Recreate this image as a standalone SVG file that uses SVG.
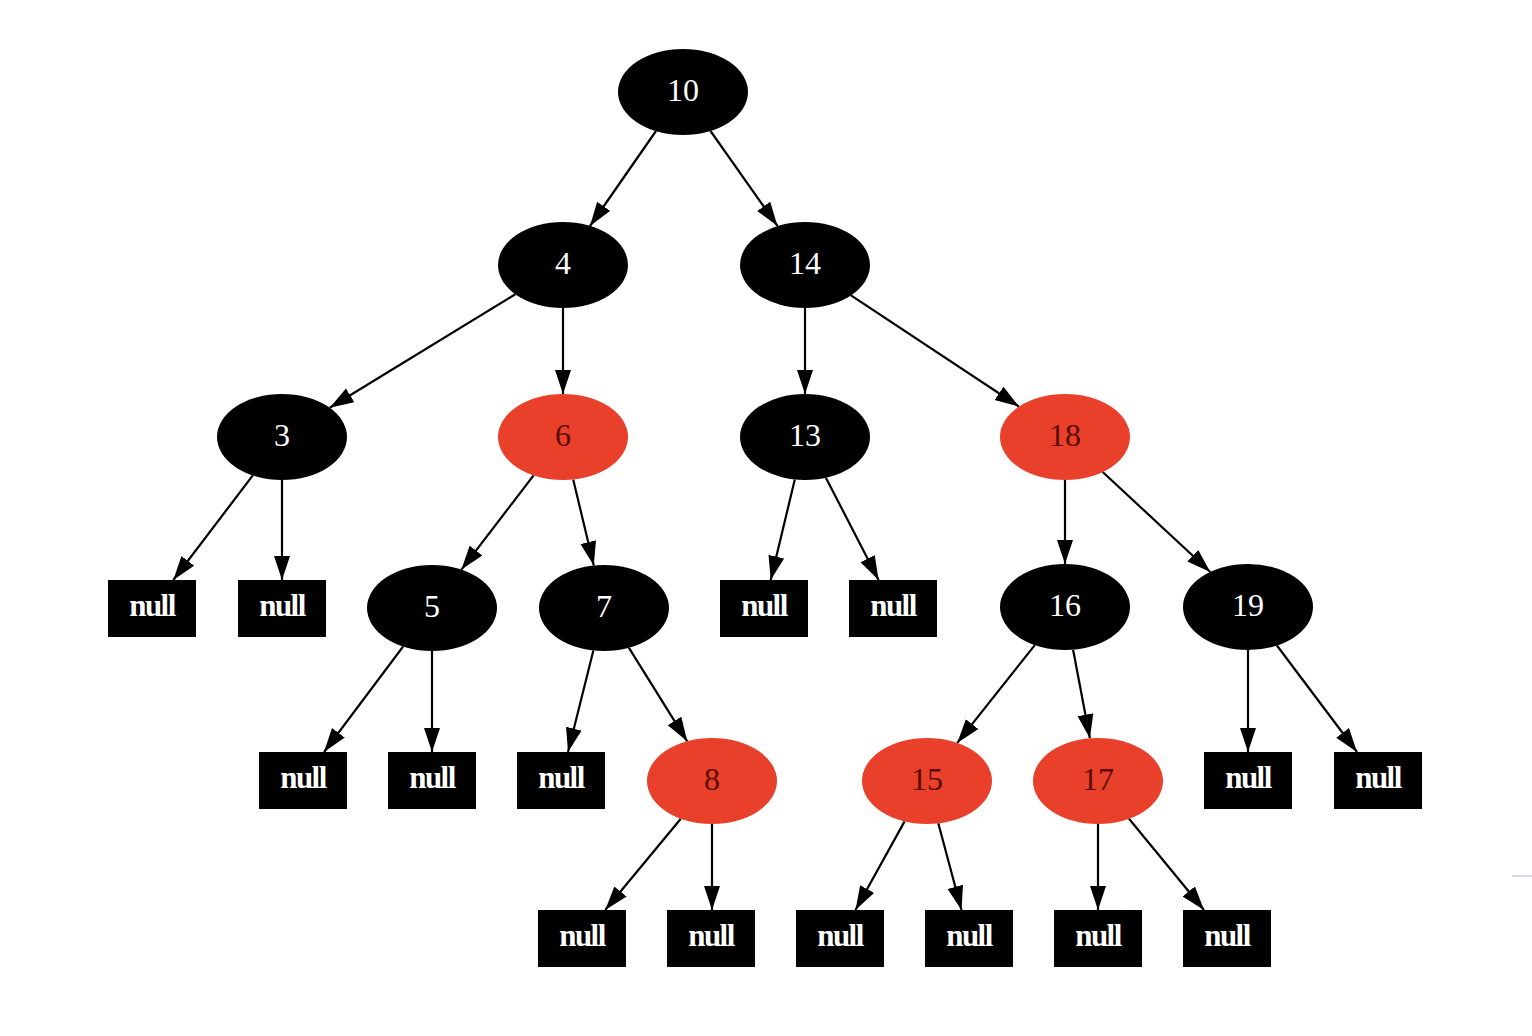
<svg xmlns="http://www.w3.org/2000/svg" width="1532" height="1036" viewBox="0 0 1532 1036">
<defs>
<marker id="arr" markerUnits="userSpaceOnUse" markerWidth="26" markerHeight="18" refX="24" refY="8" orient="auto">
<path d="M0,0 L24,8 L0,16 z" fill="#000"/>
</marker>
</defs>
<style>
.e{stroke:#000;stroke-width:2.2;fill:none;marker-end:url(#arr)}
.b{fill:#000}
.r{fill:#e8402a}
.nb{fill:#000}
.t{font-family:"Liberation Serif","Times New Roman",serif;font-size:32px;text-anchor:middle;fill:#fff}
.tr{font-family:"Liberation Serif","Times New Roman",serif;font-size:32px;text-anchor:middle;fill:#5c0a00}
.tn{font-family:"Liberation Serif","Times New Roman",serif;font-size:31px;font-weight:bold;letter-spacing:-1.5px;text-anchor:middle;fill:#fff}
</style>
<rect width="1532" height="1036" fill="#fff"/>
<g id="edges">
<line class="e" x1="656" y1="131" x2="590" y2="226"/>
<line class="e" x1="710.5" y1="131" x2="777.5" y2="226"/>
<line class="e" x1="515.3" y1="294.2" x2="329.7" y2="407.8"/>
<line class="e" x1="563" y1="308" x2="563" y2="394"/>
<line class="e" x1="805" y1="308" x2="805" y2="394"/>
<line class="e" x1="851" y1="295.4" x2="1019" y2="406.6"/>
<line class="e" x1="252.8" y1="475.4" x2="173.3" y2="580"/>
<line class="e" x1="282" y1="480" x2="282" y2="580"/>
<line class="e" x1="533.6" y1="475.4" x2="461.4" y2="569.6"/>
<line class="e" x1="573.2" y1="479.5" x2="593.8" y2="565.5"/>
<line class="e" x1="794.8" y1="479.5" x2="770.7" y2="580"/>
<line class="e" x1="825.9" y1="477.7" x2="878.6" y2="580"/>
<line class="e" x1="1065" y1="480" x2="1065" y2="564"/>
<line class="e" x1="1102.7" y1="472" x2="1210.3" y2="572"/>
<line class="e" x1="403.1" y1="646.5" x2="324" y2="752"/>
<line class="e" x1="432" y1="651" x2="432" y2="752"/>
<line class="e" x1="593.4" y1="650.4" x2="568" y2="752"/>
<line class="e" x1="628.8" y1="647.7" x2="687.2" y2="741.3"/>
<line class="e" x1="1034.8" y1="645.1" x2="957.2" y2="742.9"/>
<line class="e" x1="1073.1" y1="649.7" x2="1089.9" y2="738.3"/>
<line class="e" x1="1248" y1="650" x2="1248" y2="752"/>
<line class="e" x1="1276.9" y1="645.5" x2="1357" y2="752"/>
<line class="e" x1="680.8" y1="818.7" x2="605.2" y2="910"/>
<line class="e" x1="712" y1="824" x2="712" y2="910"/>
<line class="e" x1="904.6" y1="821.4" x2="855.5" y2="910"/>
<line class="e" x1="938.3" y1="823.3" x2="961.5" y2="910"/>
<line class="e" x1="1098" y1="824" x2="1098" y2="910"/>
<line class="e" x1="1129" y1="818.8" x2="1204" y2="910"/>
</g>
<g id="n10"><ellipse class="b" cx="683" cy="92" rx="65" ry="43"/><text class="t" x="683" y="101">10</text></g>
<g id="n4"><ellipse class="b" cx="563" cy="265" rx="65" ry="43"/><text class="t" x="563" y="274">4</text></g>
<g id="n14"><ellipse class="b" cx="805" cy="265" rx="65" ry="43"/><text class="t" x="805" y="274">14</text></g>
<g id="n3"><ellipse class="b" cx="282" cy="437" rx="65" ry="43"/><text class="t" x="282" y="446">3</text></g>
<g id="n6"><ellipse class="r" cx="563" cy="437" rx="65" ry="43"/><text class="tr" x="563" y="446">6</text></g>
<g id="n13"><ellipse class="b" cx="805" cy="437" rx="65" ry="43"/><text class="t" x="805" y="446">13</text></g>
<g id="n18"><ellipse class="r" cx="1065" cy="437" rx="65" ry="43"/><text class="tr" x="1065" y="446">18</text></g>
<g id="null3a"><rect class="nb" x="108" y="580" width="88" height="57"/><text class="tn" x="152" y="616">null</text></g>
<g id="null3b"><rect class="nb" x="238" y="580" width="88" height="57"/><text class="tn" x="282" y="616">null</text></g>
<g id="n5"><ellipse class="b" cx="432" cy="608" rx="65" ry="43"/><text class="t" x="432" y="617">5</text></g>
<g id="n7"><ellipse class="b" cx="604" cy="608" rx="65" ry="43"/><text class="t" x="604" y="617">7</text></g>
<g id="null13a"><rect class="nb" x="720" y="580" width="88" height="57"/><text class="tn" x="764" y="616">null</text></g>
<g id="null13b"><rect class="nb" x="849" y="580" width="88" height="57"/><text class="tn" x="893" y="616">null</text></g>
<g id="n16"><ellipse class="b" cx="1065" cy="607" rx="65" ry="43"/><text class="t" x="1065" y="616">16</text></g>
<g id="n19"><ellipse class="b" cx="1248" cy="607" rx="65" ry="43"/><text class="t" x="1248" y="616">19</text></g>
<g id="null5a"><rect class="nb" x="259" y="752" width="88" height="57"/><text class="tn" x="303" y="788">null</text></g>
<g id="null5b"><rect class="nb" x="388" y="752" width="88" height="57"/><text class="tn" x="432" y="788">null</text></g>
<g id="null7"><rect class="nb" x="517" y="752" width="88" height="57"/><text class="tn" x="561" y="788">null</text></g>
<g id="n8"><ellipse class="r" cx="712" cy="781" rx="65" ry="43"/><text class="tr" x="712" y="790">8</text></g>
<g id="n15"><ellipse class="r" cx="927" cy="781" rx="65" ry="43"/><text class="tr" x="927" y="790">15</text></g>
<g id="n17"><ellipse class="r" cx="1098" cy="781" rx="65" ry="43"/><text class="tr" x="1098" y="790">17</text></g>
<g id="null19a"><rect class="nb" x="1204" y="752" width="88" height="57"/><text class="tn" x="1248" y="788">null</text></g>
<g id="null19b"><rect class="nb" x="1334" y="752" width="88" height="57"/><text class="tn" x="1378" y="788">null</text></g>
<g id="null8a"><rect class="nb" x="538" y="910" width="88" height="57"/><text class="tn" x="582" y="946">null</text></g>
<g id="null8b"><rect class="nb" x="667" y="910" width="88" height="57"/><text class="tn" x="711" y="946">null</text></g>
<g id="null15a"><rect class="nb" x="796" y="910" width="88" height="57"/><text class="tn" x="840" y="946">null</text></g>
<g id="null15b"><rect class="nb" x="925" y="910" width="88" height="57"/><text class="tn" x="969" y="946">null</text></g>
<g id="null17a"><rect class="nb" x="1054" y="910" width="88" height="57"/><text class="tn" x="1098" y="946">null</text></g>
<g id="null17b"><rect class="nb" x="1183" y="910" width="88" height="57"/><text class="tn" x="1227" y="946">null</text></g>
<line x1="1512" y1="876" x2="1532" y2="876" stroke="#c8d0e8" stroke-width="1.5"/>
</svg>
